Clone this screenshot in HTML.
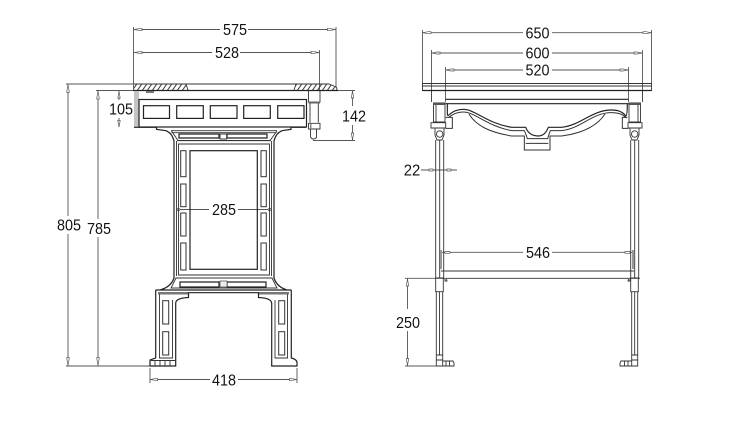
<!DOCTYPE html>
<html><head><meta charset="utf-8"><style>
html,body{margin:0;padding:0;background:#fff}
svg{display:block}
text{font-family:"Liberation Sans",sans-serif;font-size:15.500px;fill:#111;text-anchor:middle}
.l{fill:none;stroke:#333;stroke-width:.9}
.d{fill:none;stroke:#555;stroke-width:.9}
.h{fill:none;stroke:#222;stroke-width:1.200}
.s{fill:none;stroke:#333;stroke-width:1}
.a{fill:#fff;stroke:#555;stroke-width:.7}
</style></head><body>
<svg width="729" height="448" viewBox="0 0 729 448" xmlns="http://www.w3.org/2000/svg">
<defs><pattern id="hp" width="5" height="7" patternUnits="userSpaceOnUse" patternTransform="skewX(-35)"><rect width="1.200" height="7" fill="#333"/></pattern></defs>
<rect width="729" height="448" fill="#fff"/>

<!-- LEFT VIEW: dimensions -->
<path class="d" d="M133.500 27V90M336 27V88M319.500 50V90M133.500 29.500H220M248 29.500H336M133.500 52.500H212M240 52.500H319.500"/>
<path class="d" d="M66 84H134M96 90.500H134M68 84V216M68 234V366M98 90.500V219M98 237V366M66 366H150"/>
<path class="d" d="M119 91V100M119 118V127M352.500 91V106M352.500 125V140.500M338 90.500H355M313 140.500H355"/>
<path class="d" d="M150 368V383M297 368V383M150 379.500H210M238 379.500H297"/>
<path class="d" d="M177 209.500H209M238 209.500H271"/>
<path class="a" d="M134 29.500l7-1.200h1v2.400h-1zM335.500 29.500l-7-1.200h-1v2.400h1zM135 52.500l6-1.200h1v2.400h-1zM319 52.500l-7-1.200h-1v2.400h1z"/>
<path class="a" d="M68 84.500l-1.200 7v1h2.400v-1zM68 365.500l-1.200-7v-1h2.400v1zM98 91l-1.200 7v1h2.400v-1zM98 365.500l-1.200-7v-1h2.400v1z"/>
<path class="a" d="M119 91.500l-1.200 6.500h2.400zM119 127l-1.200-6.500h2.400zM352.500 91l-1.200 7h2.400zM352.500 140l-1.200-7h2.400z"/>
<path class="a" d="M150.500 379.500l6-1.200h1v2.400h-1zM296.500 379.500l-6-1.200h-1v2.400h1zM177 209.500a1.500 1.200 0 1 0 3 0a1.500 1.200 0 1 0-3 0zM268 209.500a1.500 1.200 0 1 0 3 0a1.500 1.200 0 1 0-3 0z"/>
<g>
<text x="235" y="35" textLength="24" lengthAdjust="spacingAndGlyphs">575</text>
<text x="227" y="58" textLength="24" lengthAdjust="spacingAndGlyphs">528</text>
<text x="69" y="230.500" textLength="24" lengthAdjust="spacingAndGlyphs">805</text>
<text x="99" y="234" textLength="24" lengthAdjust="spacingAndGlyphs">785</text>
<text x="121" y="114.500" textLength="24" lengthAdjust="spacingAndGlyphs">105</text>
<text x="354" y="121.500" textLength="24" lengthAdjust="spacingAndGlyphs">142</text>
<text x="224" y="215" textLength="24" lengthAdjust="spacingAndGlyphs">285</text>
<text x="224" y="385.500" textLength="24" lengthAdjust="spacingAndGlyphs">418</text>
</g>

<!-- LEFT VIEW: top slab -->
<path d="M134 84H186L188 90H134Z" fill="url(#hp)"/>
<path d="M294 90L296 84H329L336 88V90Z" fill="url(#hp)"/>
<path class="l" d="M134 84H329L336 87Q338 89 336 90.500"/>
<path class="l" d="M186 84L188 90M294 90L296 84"/>
<path class="h" d="M133 90.500H338"/>
<rect x="146" y="91" width="8" height="2" fill="#777"/>
<rect x="134" y="91" width="5" height="36" fill="#c4c4c4"/>
<!-- apron -->
<rect x="139" y="99.500" width="167.500" height="27.500" class="h"/>
<rect x="143.500" y="105.700" width="26" height="12.700" class="h"/>
<rect x="176.700" y="105.700" width="26.600" height="12.700" class="h"/>
<rect x="210.300" y="105.700" width="26.700" height="12.700" class="h"/>
<rect x="243.700" y="105.700" width="26.600" height="12.700" class="h"/>
<rect x="277.700" y="105.700" width="26.300" height="12.700" class="h"/>
<!-- right table leg -->
<path class="l" d="M308.500 91V102H320V91M310 103V122.500M318.300 103V122.500M308.500 123.300H320V129H308.500ZM310.500 129V137Q313 141 316.500 137.500V129"/>
<rect x="308.500" y="101.500" width="11.500" height="2" fill="#666"/>
<rect x="310" y="123.500" width="1.500" height="5.500" fill="#888"/>
<!-- upper frame flare -->
<path class="h" d="M134 127.300H156.500V129.300L166 130.700Q172 133 174 141V278Q171 287 160 290H155.700V290H291.300H287Q277 287 274 278V141Q276 133 282 130.700L291 129.300V127.300H306"/>
<path class="l" d="M171 130.700H277M171.500 132.700H276.500M171.500 131L178 140.500H270L277 131"/>
<path class="h" d="M179 134H219V138H179ZM227 134H267V138H227Z"/>
<path class="l" d="M220 134H226.700V139H220Z"/>
<path class="l" d="M176.500 141V276M271.500 141V276M178.500 144H269.500V275H178.500Z"/>
<path class="l" d="M177 140.700H271"/>
<rect x="190" y="150.700" width="67.300" height="118.600" class="h"/>
<g class="s">
<rect x="180.700" y="150.700" width="5.300" height="26"/><rect x="180.700" y="184" width="5.300" height="22.700"/><rect x="180.700" y="213" width="5.300" height="23"/><rect x="180.700" y="243" width="5.300" height="27"/>
<rect x="261" y="150.700" width="5.300" height="26"/><rect x="261" y="184" width="5.300" height="22.700"/><rect x="261" y="213" width="5.300" height="23"/><rect x="261" y="243" width="5.300" height="27"/>
</g>
<!-- lower frame band -->
<path class="l" d="M176 278H272L277 288H171Z"/>
<path class="h" d="M180 282H219V287H180ZM227 282H266V287H227Z"/>
<rect x="220" y="281" width="7" height="6" fill="#eee" stroke="#444" stroke-width=".7"/>
<path class="h" d="M171 292.700H276"/>
<!-- legs -->
<rect x="158" y="292" width="30" height="2.500" fill="#777"/>
<rect x="259" y="292" width="30" height="2.500" fill="#777"/>
<path class="h" d="M155.700 290V358L150 360V366H175.700V303Q176 298 188.500 297.500V293"/>
<path class="h" d="M291.300 290V358Q296 359 297 362V366H271.700V303Q271 298 258.500 297.500V293"/>
<path class="l" d="M159.500 294V358H172.500V300M287.500 294V358H275V300"/>
<g class="s">
<rect x="162.700" y="300.700" width="6" height="23.300"/>
<rect x="162.700" y="331.700" width="6" height="23.300"/>
<rect x="278.700" y="300.700" width="6" height="23.300"/>
<rect x="278.700" y="331.700" width="6" height="23.300"/>
</g>
<path class="l" d="M151 360.500H175M155 361V366M160 361V366M165 361V366M170 361V366"/>

<!-- RIGHT VIEW: dimensions -->
<path class="d" d="M422.500 30V84M651.500 30V84M431.500 50V91M642.500 50V91M445.500 67V102M628.500 67V102"/>
<path class="d" d="M422.500 32.700H523M552 32.700H651.500M431.500 53H523M552 53H642.500M445.500 70H523M552 70H628.500"/>
<path class="a" d="M423 32.700l5-1h3v2h-3zM651 32.700l-5-1h-3v2h3zM432 53l5-1h3v2h-3zM642 53l-5-1h-3v2h3zM446 70l5-1h3v2h-3zM628 70l-5-1h-3v2h3z"/>
<path class="d" d="M421 170H457M442 252.300H523M552 252.300H633"/>
<path class="a" d="M429 169h4v2h-4zM447 169h4v2h-4zM445 251.500h5v1.800h-5zM625 251.500h5v1.800h-5z"/>
<path class="d" d="M405 278.300H441M405 366H436M407.500 278.300V309M407.500 331V366"/>
<path class="a" d="M407.500 279l-1.200 7h2.400zM407.500 365.500l-1.200-7h2.400z"/>
<text x="537.500" y="38.500" textLength="24" lengthAdjust="spacingAndGlyphs">650</text>
<text x="537.500" y="58.500" textLength="24" lengthAdjust="spacingAndGlyphs">600</text>
<text x="537.500" y="75.500" textLength="24" lengthAdjust="spacingAndGlyphs">520</text>
<text x="412" y="175.500" textLength="16.500" lengthAdjust="spacingAndGlyphs">22</text>
<text x="538" y="258" textLength="24" lengthAdjust="spacingAndGlyphs">546</text>
<text x="408" y="328" textLength="24" lengthAdjust="spacingAndGlyphs">250</text>

<!-- RIGHT VIEW: top -->
<path class="l" d="M422.500 83.500H651.500V90.500H422.500Z"/>
<path class="l" d="M422.500 86H651.500"/>
<path class="h" d="M422.500 90.500H651.500"/>
<path class="l" d="M431.500 91V102M642.500 91V102"/>
<path class="h" d="M445.500 99.300H628.500M445.500 103.700H628.500"/>
<g transform="translate(395 10) scale(.33333)">
<path fill="none" stroke="#222" stroke-width="3.500" d="M157 280V310Q157 318 160 316Q180 298 205 298C240 298 275 340 350 352H392Q402 378 430 378Q450 378 460 352H500C560 345 590 300 650 300Q680 300 692 318Q697 318 697 280"/>
<path fill="none" stroke="#333" stroke-width="3" d="M160 323Q180 306 205 306C240 306 275 348 350 362H388Q392 370 397 386H458Q462 372 466 362H500C560 355 590 308 650 308Q680 308 694 324"/>
<path fill="none" stroke="#333" stroke-width="3" d="M222 312C245 350 290 368 350 378H388V420H465V378H500C560 370 605 350 630 312M392 400H460"/>
<path fill="none" stroke="#333" stroke-width="3" d="M152 322H172V355H152M697 322H682V355H700"/>
</g>
<!-- posts -->
<g class="l">
<path d="M433.500 103H445V122H433.500ZM436 105V122M431 122.700H445.700V128H431ZM435 128V135L437 140H442L444 135V128M435.700 140V278M443.700 140V278M439.700 140V278"/>
<path d="M629 103H640.500V122H629ZM638 105V122M628 122.700H642V128H628ZM630 128V135L632 140H637L639 135V128M630.700 140V278M638.700 140V278M634.700 140V278"/>
<path d="M435.700 278H443.300V291.700H435.700ZM436.300 291.700V355M442.700 291.700V355M439.500 291.700V355M436.300 355H442.700V366H436.300ZM436.300 360H442.700M442.700 361H453L454 363V366H442.700M446 361V366M449.500 361V366"/>
<path d="M630.700 278H638.300V291.700H630.700ZM631.700 291.700V355M637.700 291.700V355M634.700 291.700V355M631.700 355H637.700V366H631.700ZM631.700 360H637.700M631.700 361H621L620 363V366H631.700M628 361V366M624.500 361V366"/>
</g>
<rect x="433.500" y="103" width="11.500" height="2" fill="#555"/>
<rect x="629" y="103" width="11.500" height="2" fill="#555"/>
<circle cx="439.700" cy="134" r="3.200" class="l"/>
<circle cx="634.700" cy="134" r="3.200" class="l"/>
<rect x="440" y="250" width="2" height="19" fill="#999"/>
<rect x="632" y="250" width="2" height="19" fill="#999"/>
<path class="l" d="M441 271H634M441 278.300H640"/>
<path class="l" d="M445 279V281H447L446.500 279M630 279V281H628L628.500 279"/>
</svg>
</body></html>
